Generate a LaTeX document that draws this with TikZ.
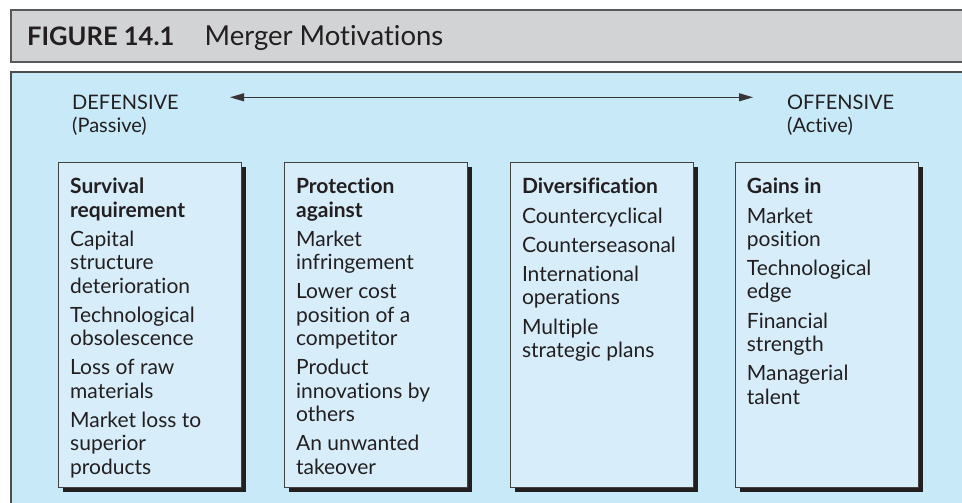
\documentclass[tikz,border=0pt]{standalone}
\usepackage{fontspec}
\setmainfont{Lato}[Ligatures={NoCommon}]
\usepackage{tikz}
\usetikzlibrary{arrows.meta,positioning,shadows}
\definecolor{panel}{RGB}{199,233,248}
\definecolor{boxfill}{RGB}{215,238,250}
\definecolor{bar}{RGB}{209,211,212}
\definecolor{ink}{RGB}{35,31,32}
\definecolor{rulegray}{RGB}{88,89,91}

\begin{document}
\begin{tikzpicture}[x=1pt,y=-1pt,% pixel grid, y pointing down
		every node/.style={
			align=left,  		% use this so that the "\\" for line break works
			inner sep=0pt,
			text=ink
		},
		motive/.style={rectangle,draw=ink!85,line width=0.9pt,fill=boxfill,
			minimum width=183pt,minimum height=325pt,
			drop shadow={shadow xshift=5pt,shadow yshift=-5pt,fill=ink,opacity=1}},
		motivetext/.style={anchor=north west,font=\fontsize{21}{23.3}\selectfont},
		sidetext/.style={anchor=north west,font=\fontsize{20}{22.4}\selectfont},
		every edge/.style={draw=ink!90,line width=1.1pt}
	]
	\useasboundingbox (0,0) rectangle (962,503);
	% title bar
	\fill[bar] (10,10) rectangle (962,62);
	\draw[rulegray,line width=2pt] (962,10) -- (11,10) -- (11,62) -- (962,62);
	\node[font=\fontsize{25.5}{28}\selectfont\bfseries,anchor=base west](F1) at (27,45.5){FIGURE 14.1};
	\node[font=\fontsize{27.5}{30}\selectfont,anchor=base west](F2) at ([xshift=30pt]F1.base east){Merger Motivations};
	% blue panel
	\fill[panel] (10,72) rectangle (962,503);
	\draw[ink!80,line width=1.3pt] (962,72) -- (11,72) -- (11,503);
	% scale from defensive to offensive
	\node[sidetext](S1) at (72,95){DEFENSIVE \\ (Passive)};
	\node[sidetext](S2) at (787,95){OFFENSIVE \\ (Active)};
	\coordinate (L1) at (230,97.3);
	\coordinate (L2) at (753,97.3);
	\path[{Triangle[length=14pt,width=8pt]}-{Triangle[length=14pt,width=8pt]}]
	(L1)edge []	node [] {} (L2)
	;
	% the four boxes
	\node[motive,anchor=north west](B1) at (58,162){};
	\node[motive](B2)[right=42pt of B1]{};
	\node[motive](B3)[right=42pt of B2]{};
	\node[motive](B4)[right=41pt of B3]{};
	\node[motivetext](T1) at ([xshift=12pt,yshift=-16pt]B1.north west){\textbf{Survival} \\ \textbf{requirement} \\[6pt]
		Capital \\ structure \\ deterioration \\[6pt]
		Technological \\ obsolescence \\[6pt]
		Loss of raw \\ materials \\[6pt]
		Market loss to \\ superior \\ products};
	\node[motivetext](T2) at ([xshift=12pt,yshift=-16pt]B2.north west){\textbf{Protection} \\ \textbf{against} \\[6pt]
		Market \\ infringement \\[6pt]
		Lower cost \\ position of a \\ competitor \\[6pt]
		Product \\ innovations by \\ others \\[6pt]
		An unwanted \\ takeover};
	\node[motivetext](T3) at ([xshift=12pt,yshift=-16pt]B3.north west){\textbf{Diversification} \\[6pt]
		Countercyclical \\[6pt]
		Counterseasonal \\[6pt]
		International \\ operations \\[6pt]
		Multiple \\ strategic plans};
	\node[motivetext](T4) at ([xshift=12pt,yshift=-16pt]B4.north west){\textbf{Gains in} \\[6pt]
		Market \\ position \\[6pt]
		Technological \\ edge \\[6pt]
		Financial \\ strength \\[6pt]
		Managerial \\ talent};
\end{tikzpicture}
\end{document}
